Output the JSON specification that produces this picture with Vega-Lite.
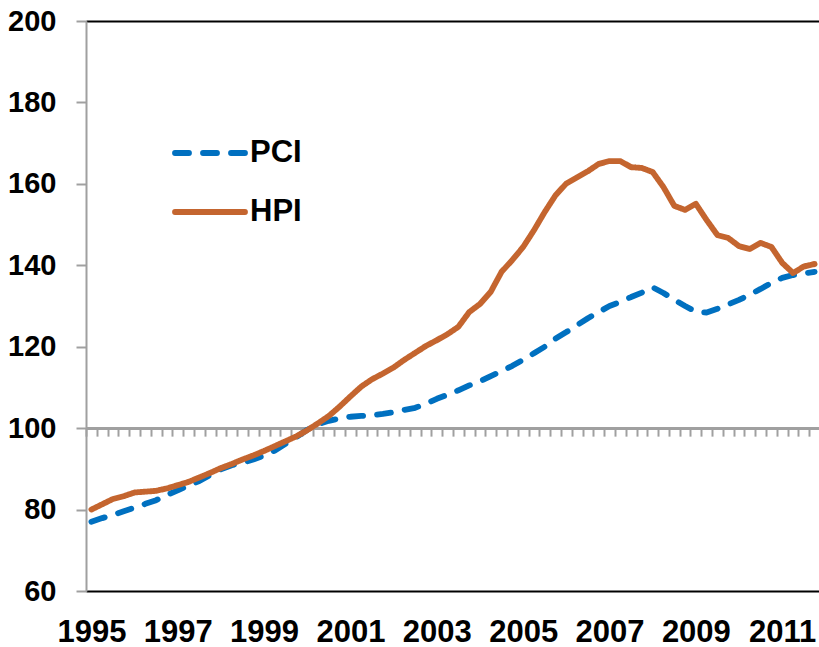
{
  "$schema": "https://vega.github.io/schema/vega-lite/v6.json",
  "width": 734,
  "height": 570,
  "autosize": "none",
  "padding": {"left": 86, "top": 21, "right": 0, "bottom": 56},
  "config": {
    "font": "Liberation Sans",
    "view": {"stroke": null},
    "axis": {"labelFont": "Liberation Sans", "labelFontWeight": "bold", "labelColor": "#000000"}
  },
  "data": {
    "values": [
      {"t": 1995.125, "PCI": 77.0, "HPI": 80.0},
      {"t": 1995.375, "PCI": 77.9, "HPI": 81.3},
      {"t": 1995.625, "PCI": 78.7, "HPI": 82.6},
      {"t": 1995.875, "PCI": 79.6, "HPI": 83.3},
      {"t": 1996.125, "PCI": 80.5, "HPI": 84.2},
      {"t": 1996.375, "PCI": 81.4, "HPI": 84.4},
      {"t": 1996.625, "PCI": 82.3, "HPI": 84.6},
      {"t": 1996.875, "PCI": 83.6, "HPI": 85.2},
      {"t": 1997.125, "PCI": 84.7, "HPI": 86.0},
      {"t": 1997.375, "PCI": 85.9, "HPI": 86.8},
      {"t": 1997.625, "PCI": 87.0, "HPI": 87.9},
      {"t": 1997.875, "PCI": 88.5, "HPI": 89.0},
      {"t": 1998.125, "PCI": 89.9, "HPI": 90.2},
      {"t": 1998.375, "PCI": 90.9, "HPI": 91.2},
      {"t": 1998.625, "PCI": 91.5, "HPI": 92.3},
      {"t": 1998.875, "PCI": 92.3, "HPI": 93.3},
      {"t": 1999.125, "PCI": 93.3, "HPI": 94.4},
      {"t": 1999.375, "PCI": 94.5, "HPI": 95.6},
      {"t": 1999.625, "PCI": 96.2, "HPI": 96.8},
      {"t": 1999.875, "PCI": 97.8, "HPI": 98.0},
      {"t": 2000.125, "PCI": 99.6, "HPI": 99.5},
      {"t": 2000.375, "PCI": 101.0, "HPI": 101.2},
      {"t": 2000.625, "PCI": 101.8, "HPI": 103.0},
      {"t": 2000.875, "PCI": 102.4, "HPI": 105.3},
      {"t": 2001.125, "PCI": 102.8, "HPI": 107.8},
      {"t": 2001.375, "PCI": 103.0, "HPI": 110.2},
      {"t": 2001.625, "PCI": 103.2, "HPI": 112.0},
      {"t": 2001.875, "PCI": 103.5, "HPI": 113.4},
      {"t": 2002.125, "PCI": 103.9, "HPI": 114.9},
      {"t": 2002.375, "PCI": 104.5, "HPI": 116.8},
      {"t": 2002.625, "PCI": 105.0, "HPI": 118.5},
      {"t": 2002.875, "PCI": 106.0, "HPI": 120.2},
      {"t": 2003.125, "PCI": 107.2, "HPI": 121.6},
      {"t": 2003.375, "PCI": 108.2, "HPI": 123.1},
      {"t": 2003.625, "PCI": 109.3, "HPI": 124.9},
      {"t": 2003.875, "PCI": 110.5, "HPI": 128.5},
      {"t": 2004.125, "PCI": 111.5, "HPI": 130.5},
      {"t": 2004.375, "PCI": 112.8, "HPI": 133.5},
      {"t": 2004.625, "PCI": 114.0, "HPI": 138.4},
      {"t": 2004.875, "PCI": 115.3, "HPI": 141.3},
      {"t": 2005.125, "PCI": 116.8, "HPI": 144.5},
      {"t": 2005.375, "PCI": 118.4, "HPI": 148.6},
      {"t": 2005.625, "PCI": 120.0, "HPI": 153.1},
      {"t": 2005.875, "PCI": 122.0, "HPI": 157.2},
      {"t": 2006.125, "PCI": 123.6, "HPI": 160.1},
      {"t": 2006.375, "PCI": 125.3, "HPI": 161.6},
      {"t": 2006.625, "PCI": 127.0, "HPI": 163.1},
      {"t": 2006.875, "PCI": 128.5, "HPI": 164.9},
      {"t": 2007.125, "PCI": 130.0, "HPI": 165.6},
      {"t": 2007.375, "PCI": 131.0, "HPI": 165.6},
      {"t": 2007.625, "PCI": 132.2, "HPI": 164.1},
      {"t": 2007.875, "PCI": 133.3, "HPI": 163.9},
      {"t": 2008.125, "PCI": 134.6, "HPI": 162.9},
      {"t": 2008.375, "PCI": 133.2, "HPI": 159.2},
      {"t": 2008.625, "PCI": 131.5, "HPI": 154.6},
      {"t": 2008.875, "PCI": 130.0, "HPI": 153.6},
      {"t": 2009.125, "PCI": 128.6, "HPI": 155.1},
      {"t": 2009.375, "PCI": 128.4, "HPI": 151.1},
      {"t": 2009.625, "PCI": 129.3, "HPI": 147.4},
      {"t": 2009.875, "PCI": 130.4, "HPI": 146.7},
      {"t": 2010.125, "PCI": 131.5, "HPI": 144.7},
      {"t": 2010.375, "PCI": 132.8, "HPI": 144.0},
      {"t": 2010.625, "PCI": 134.2, "HPI": 145.5},
      {"t": 2010.875, "PCI": 135.7, "HPI": 144.5},
      {"t": 2011.125, "PCI": 136.9, "HPI": 140.6},
      {"t": 2011.375, "PCI": 137.6, "HPI": 138.1},
      {"t": 2011.625, "PCI": 138.0, "HPI": 139.7},
      {"t": 2011.875, "PCI": 138.4, "HPI": 140.3}
    ]
  },
  "resolve": {"axis": {"x": "independent"}},
  "layer": [
    {
      "mark": {"type": "rule", "color": "#A0A0A0", "strokeWidth": 2},
      "encoding": {
        "y": {"datum": 100, "type": "quantitative"},
        "x": {
          "datum": 1995, "type": "quantitative",
          "scale": {"domain": [1995, 2012], "nice": false, "zero": false},
          "axis": {
            "orient": "bottom", "offset": -162.86, "title": null, "labels": false, "domain": false, "grid": false,
            "ticks": true, "tickColor": "#A0A0A0", "tickWidth": 2, "tickSize": 8,
            "values": [1995,1995.25,1995.5,1995.75,1996,1996.25,1996.5,1996.75,1997,1997.25,1997.5,1997.75,1998,1998.25,1998.5,1998.75,1999,1999.25,1999.5,1999.75,2000,2000.25,2000.5,2000.75,2001,2001.25,2001.5,2001.75,2002,2002.25,2002.5,2002.75,2003,2003.25,2003.5,2003.75,2004,2004.25,2004.5,2004.75,2005,2005.25,2005.5,2005.75,2006,2006.25,2006.5,2006.75,2007,2007.25,2007.5,2007.75,2008,2008.25,2008.5,2008.75,2009,2009.25,2009.5,2009.75,2010,2010.25,2010.5,2010.75,2011,2011.25,2011.5,2011.75,2012]
          }
        },
        "x2": {"datum": 2012}
      }
    },
    {
      "transform": [{"fold": ["PCI", "HPI"], "as": ["series", "value"]}],
      "mark": {"type": "line", "strokeWidth": 5.8, "strokeCap": "round", "strokeJoin": "round"},
      "encoding": {
        "x": {
          "field": "t", "type": "quantitative",
          "scale": {"domain": [1995, 2012], "nice": false, "zero": false},
          "axis": {
            "orient": "bottom", "title": null, "domain": false, "ticks": false, "grid": false,
            "values": [1995.125, 1997.125, 1999.125, 2001.125, 2003.125, 2005.125, 2007.125, 2009.125, 2011.125],
            "labelExpr": "floor(datum.value)", "labelFontSize": 31, "labelPadding": 26,
            "labelOverlap": false, "labelBound": false, "labelFlush": false
          }
        },
        "y": {
          "field": "value", "type": "quantitative",
          "scale": {"domain": [60, 200], "nice": false, "zero": false},
          "axis": {
            "title": null, "values": [60, 80, 100, 120, 140, 160, 180, 200],
            "domainColor": "#A0A0A0", "domainWidth": 2,
            "tickColor": "#A0A0A0", "tickWidth": 2, "tickSize": 10,
            "labelFontSize": 29, "labelPadding": 20,
            "grid": true, "gridColor": "#000000", "gridWidth": 2,
            "gridOpacity": {"condition": {"test": "datum.value === 60 || datum.value === 200", "value": 1}, "value": 0}
          }
        },
        "color": {
          "field": "series", "type": "nominal",
          "scale": {"domain": ["PCI", "HPI"], "range": ["#0070C0", "#C4652F"]},
          "legend": {
            "title": null, "orient": "none", "legendX": 86, "legendY": 94,
            "symbolType": "stroke", "symbolSize": 4900, "symbolStrokeWidth": 5.8,
            "labelFontSize": 31, "labelFontWeight": "bold", "labelColor": "#000000", "labelFont": "Liberation Sans",
            "labelOffset": 2, "rowPadding": 6, "padding": 0,
            "encode": {"symbols": {"update": {"strokeCap": {"value": "round"}}}}
          }
        },
        "strokeDash": {
          "field": "series", "type": "nominal",
          "scale": {"domain": ["PCI", "HPI"], "range": [[14, 14], [1, 0]]},
          "legend": {
            "title": null, "orient": "none", "legendX": 86, "legendY": 94,
            "symbolType": "stroke", "symbolSize": 4900, "symbolStrokeWidth": 5.8,
            "labelFontSize": 31, "labelFontWeight": "bold", "labelColor": "#000000", "labelFont": "Liberation Sans",
            "labelOffset": 2, "rowPadding": 6, "padding": 0,
            "encode": {"symbols": {"update": {"strokeCap": {"value": "round"}}}}
          }
        }
      }
    }
  ]
}
